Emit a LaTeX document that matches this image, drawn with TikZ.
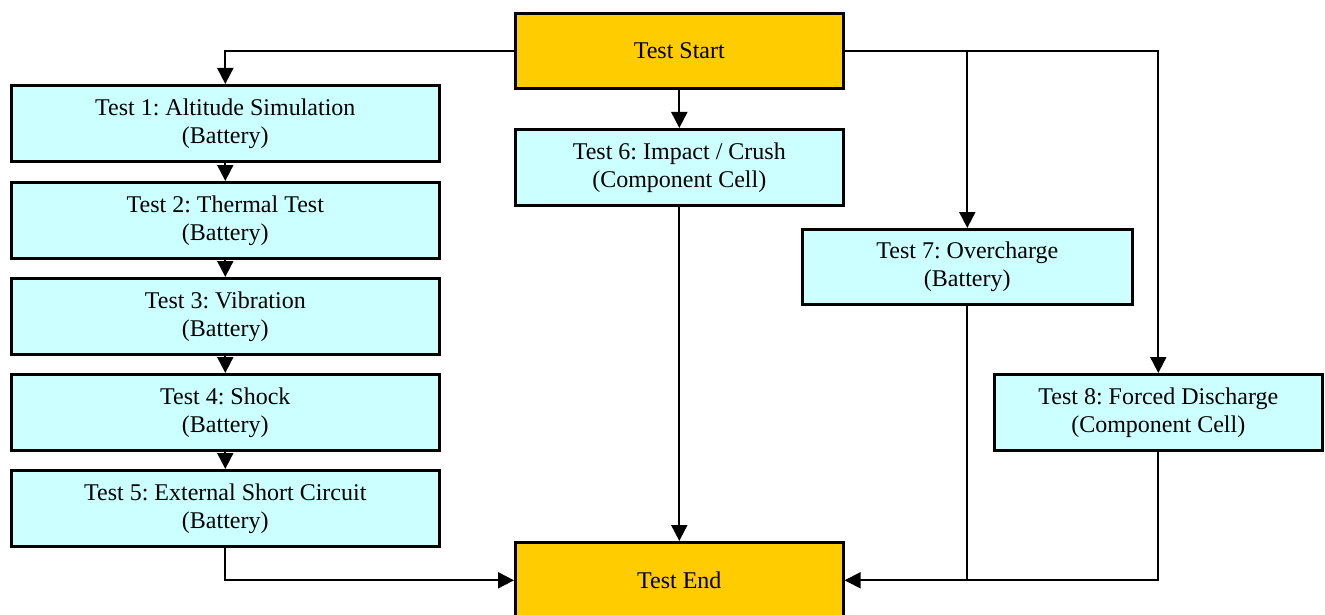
\documentclass[tikz,border=0pt]{standalone}
\usepackage{fontspec}
\setmainfont{Liberation Serif}
\usetikzlibrary{arrows.meta}
\definecolor{startorange}{HTML}{FFCC00}
\definecolor{testcyan}{HTML}{CCFFFF}
\frenchspacing
\begin{document}
\begin{tikzpicture}[x=1pt,y=-1pt,
  box/.style={draw=black, line width=2.6pt, rectangle, inner sep=0pt, anchor=north west, align=center,
    font=\fontsize{24}{28}\selectfont\frenchspacing},
  testbox/.style={box, fill=testcyan},
  endbox/.style={box, fill=startorange},
  arr/.style={line width=1.9pt, -{Triangle[length=16pt,width=16pt]}},
  ln/.style={line width=1.9pt}]
\useasboundingbox (0,0) rectangle (1325,615);
\node[endbox, minimum width=328pt, minimum height=75pt] (start) at (514,12) {Test Start};
\node[testbox, minimum width=328pt, minimum height=76pt] (t6) at (514,128) {Test 6: Impact / Crush\\(Component Cell)};
\node[testbox, minimum width=428pt, minimum height=76pt] (t1) at (10,84) {Test 1: Altitude Simulation\\(Battery)};
\node[testbox, minimum width=428pt, minimum height=76pt] (t2) at (10,181) {Test 2: Thermal Test\\(Battery)};
\node[testbox, minimum width=428pt, minimum height=76pt] (t3) at (10,277) {Test 3: Vibration\\(Battery)};
\node[testbox, minimum width=428pt, minimum height=76pt] (t4) at (10,373) {Test 4: Shock\\(Battery)};
\node[testbox, minimum width=428pt, minimum height=76pt] (t5) at (10,469) {Test 5: External Short Circuit\\(Battery)};
\node[testbox, minimum width=330pt, minimum height=75pt] (t7) at (801,228) {Test 7: Overcharge\\(Battery)};
\node[testbox, minimum width=328pt, minimum height=76pt] (t8) at (993,373) {Test 8: Forced Discharge\\(Component Cell)};
\node[endbox, minimum width=328pt, minimum height=76pt] (end) at (514,541) {Test End};
\draw[arr] (start.west) -| (t1.north);
\draw[arr] (start.south) -- (t6.north);
\draw[arr] (start.east) -| (t8.north);
\draw[arr] (t7.north |- start.east) -- (t7.north);
\draw[arr] (t1.south) -- (t2.north);
\draw[arr] (t2.south) -- (t3.north);
\draw[arr] (t3.south) -- (t4.north);
\draw[arr] (t4.south) -- (t5.north);
\draw[arr] (t5.south) |- (end.west);
\draw[arr] (t6.south) -- (end.north);
\draw[ln] (t7.south) -- (t7.south |- end.east);
\draw[arr] (t8.south) |- (end.east);
\end{tikzpicture}
\end{document}
